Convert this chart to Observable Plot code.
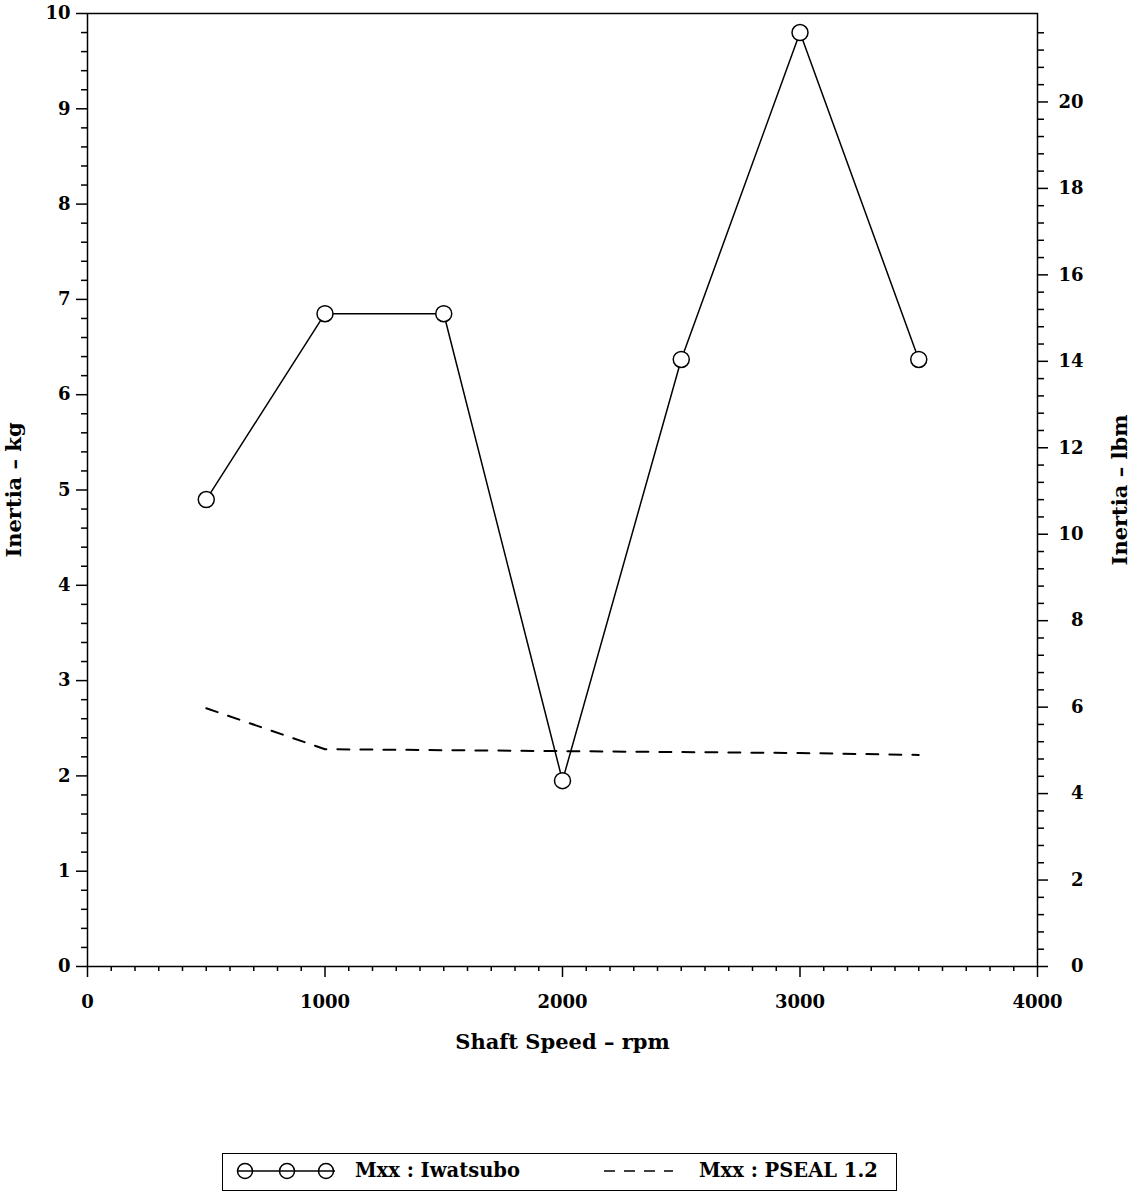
<!DOCTYPE html>
<html>
<head>
<meta charset="utf-8">
<script src="https://cdn.jsdelivr.net/npm/d3@7"></script>
<script src="https://cdn.jsdelivr.net/npm/@observablehq/plot@0.6"></script>
<style>
  html, body { margin: 0; padding: 0; background: white; }
  #chart { width: 1139px; }
  #chart svg.plotsvg { display: block; }
  .lg {
    position: relative; margin-left: 222px; margin-top: 43px; width: 675px; height: 38px;
    border: 1.5px solid black; box-sizing: border-box;
    font-family: "DejaVu Serif", serif; font-weight: bold; font-size: 19.5px; color: black;
  }
  .lg .sym { position: absolute; left: 0; top: 0; }
  .lg .t { position: absolute; top: 6px; white-space: pre; line-height: 22px; }
</style>
</head>
<body>
<div id="chart"></div>
<script>
// ---- data ----
const speeds   = [500, 1000, 1500, 2000, 2500, 3000, 3500];       // rpm
const iwatsubo = [4.90, 6.85, 6.85, 1.95, 6.37, 9.80, 6.37];      // kg
const pseal    = [2.71, 2.28, 2.27, 2.26, 2.25, 2.24, 2.22];      // kg
const seriesNames = ["Mxx : Iwatsubo", "Mxx : PSEAL 1.2"];
const xTitle = "Shaft Speed – rpm";
const yTitleLeft = "Inertia – kg";
const yTitleRight = "Inertia – lbm";
const rpmTicks = [0, 1000, 2000, 3000, 4000];
const kgTicks  = [0, 1, 2, 3, 4, 5, 6, 7, 8, 9, 10];
const lbmTicks = [0, 2, 4, 6, 8, 10, 12, 14, 16, 18, 20];
const KG_PER_LBM = 0.45359237;

const iwData = speeds.map((s, i) => ({speed: s, kg: iwatsubo[i]}));
const psData = speeds.map((s, i) => ({speed: s, kg: pseal[i]}));

const rpmMinor = d3.range(0, 4001, 100).filter(v => v % 1000 !== 0);
const kgMinor  = d3.range(0, 51).map(v => v / 5).filter(v => Math.abs(v - Math.round(v)) > 1e-9);
const lbmMinor = d3.range(0, 56).map(v => v * 0.4).filter(v => Math.abs(v / 2 - Math.round(v / 2)) > 1e-9 && v * KG_PER_LBM <= 10);

const blank = () => "";
const plain = d => String(d);
const titleStyle = {fontSize: 21, fontWeight: "bold", fill: "black", textAnchor: "middle", lineAnchor: "middle"};

const chart = Plot.plot({
  width: 1139,
  height: 1110,
  marginLeft: 87,
  marginRight: 102,
  marginTop: 13,
  marginBottom: 144,
  x: {domain: [0, 4000]},
  y: {domain: [0, 10]},
  style: {fontFamily: "DejaVu Serif, serif", fontWeight: "bold", fontSize: "18px", color: "black", background: "white"},
  marks: [
    Plot.frame({stroke: "black", strokeWidth: 1.5}),
    // bottom axis
    Plot.axisX(rpmMinor, {tickSize: 5, tickFormat: blank, label: null, strokeWidth: 1.5}),
    Plot.axisX(rpmTicks, {tickSize: 11, tickPadding: 18, strokeWidth: 1.5, fontSize: 18, tickFormat: plain, label: null}),
    // left axis (kg)
    Plot.axisY(kgMinor, {anchor: "left", tickSize: 6, tickFormat: blank, label: null, strokeWidth: 1.5}),
    Plot.axisY(kgTicks, {anchor: "left", tickSize: 11, tickPadding: 6, strokeWidth: 1.5, fontSize: 18, tickFormat: plain, label: null}),
    // right axis (lbm)
    Plot.axisY(lbmMinor.map(v => v * KG_PER_LBM), {anchor: "right", tickSize: 6, tickFormat: blank, label: null, strokeWidth: 1.5}),
    Plot.axisY(lbmTicks.map(v => v * KG_PER_LBM), {anchor: "right", tickSize: 10, tickPadding: 36, textAnchor: "end",
      strokeWidth: 1.5, fontSize: 18, label: null,
      tickFormat: d => String(Math.round(d / KG_PER_LBM))}),
    // axis titles
    Plot.text([xTitle], {frameAnchor: "bottom", dy: 76, ...titleStyle}),
    Plot.text([yTitleLeft], {frameAnchor: "left", dx: -73, rotate: -90, ...titleStyle}),
    Plot.text([yTitleRight], {frameAnchor: "right", dx: 83, rotate: -90, ...titleStyle}),
    // series
    Plot.line(psData, {x: "speed", y: "kg", stroke: "black", strokeWidth: 2, strokeDasharray: "12,11"}),
    Plot.line(iwData, {x: "speed", y: "kg", stroke: "black", strokeWidth: 1.5}),
    Plot.dot(iwData, {x: "speed", y: "kg", r: 8, stroke: "black", strokeWidth: 1.5, fill: "white"})
  ]
});
chart.classList.add("plotsvg");
const holder = document.getElementById("chart");
holder.appendChild(chart);

// legend
const legend = document.createElement("div");
legend.className = "lg";
legend.innerHTML = `
<svg class="sym" width="672" height="35">
  <line x1="15" y1="17" x2="112" y2="17" stroke="black" stroke-width="1.3"/>
  <circle cx="22" cy="17" r="7.5" fill="none" stroke="black" stroke-width="1.5"/>
  <circle cx="64" cy="17" r="7.5" fill="none" stroke="black" stroke-width="1.5"/>
  <circle cx="103" cy="17" r="7.5" fill="none" stroke="black" stroke-width="1.5"/>
  <line x1="381" y1="17" x2="450" y2="17" stroke="black" stroke-width="1.5" stroke-dasharray="11,9"/>
</svg>
<span class="t" style="left:132px">${seriesNames[0]}</span>
<span class="t" style="left:476px">${seriesNames[1]}</span>`;
holder.appendChild(legend);
</script>
</body>
</html>
